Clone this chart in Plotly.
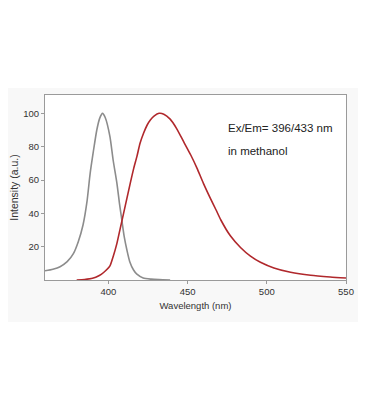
import plotly.graph_objects as go

# Excitation spectrum (gray)
ex_wl = [360, 365, 369.5, 374, 378, 381, 384, 386.5, 388.5, 390.5, 392.7, 394.5, 396.3,
         398, 401, 403, 405.4, 407, 408.5, 410, 411.7, 413.5, 415.9, 418, 422, 427, 432, 439]
ex_int = [5.5, 6.5, 8, 11, 16, 23, 33, 47, 64, 77, 90, 97, 100,
          97.5, 86, 72, 58, 46, 36, 26, 18, 11, 6, 3.5, 1.2, 0.5, 0.2, 0]

# Emission spectrum (red)
em_wl = [380, 385, 390, 394, 397, 401, 403, 405.4, 407.5, 409.6, 411.7, 413.8, 416, 418,
         420, 422.2, 424.5, 426.5, 429, 432, 435, 439, 443, 447.5, 452, 456, 460, 464.4,
         468, 471, 477, 483.4, 489.7, 496, 504.5, 515, 527.7, 540, 550]
em_int = [0, 0.3, 1, 2.5, 4.5, 8.5, 14, 22, 31, 40, 49, 58, 67, 74,
          82, 88, 93, 96, 98.5, 100, 99.5, 96.5, 91, 83, 75, 67, 58, 49,
          42, 36, 26.5, 19.5, 14.3, 10.6, 7.2, 4.6, 2.8, 1.8, 1.2]

x_ticks = [400, 450, 500, 550]
y_ticks = [20, 40, 60, 80, 100]

annot_lines = ["Ex/Em= 396/433 nm", "in methanol"]

FONT = "Liberation Sans, Arial, sans-serif"

fig = go.Figure()
fig.add_trace(go.Scatter(x=ex_wl, y=ex_int, mode="lines",
                         line=dict(color="#8c8c8c", width=1.6, shape="spline", smoothing=0.6),
                         showlegend=False))
fig.add_trace(go.Scatter(x=em_wl, y=em_int, mode="lines",
                         line=dict(color="#b0282c", width=1.6, shape="spline", smoothing=0.6),
                         showlegend=False))

axis_common = dict(showline=True, linecolor="#9a9a9a", linewidth=1, mirror=True,
                   ticks="outside", ticklen=3, tickcolor="#9a9a9a", showgrid=False,
                   zeroline=False, automargin=False,
                   tickfont=dict(family=FONT, size=9.5, color="#333333"))

fig.update_xaxes(range=[360, 550], tickvals=x_ticks, ticktext=[str(v) for v in x_ticks],
                 title=dict(text="Wavelength (nm)", font=dict(family=FONT, size=9.5, color="#333333"),
                            standoff=5),
                 **axis_common)
fig.update_yaxes(range=[0, 111], tickvals=y_ticks, ticktext=[str(v) for v in y_ticks],
                 title=dict(text="Intensity (a.u.)", font=dict(family=FONT, size=10.5, color="#333333"),
                            standoff=6),
                 **axis_common)

fig.add_annotation(x=0.6, y=0.82, xref="paper", yref="paper", xanchor="left", yanchor="middle",
                   text=annot_lines[0], showarrow=False,
                   font=dict(family=FONT, size=11.5, color="#222222"))
fig.add_annotation(x=0.6, y=0.695, xref="paper", yref="paper", xanchor="left", yanchor="middle",
                   text=annot_lines[1], showarrow=False,
                   font=dict(family=FONT, size=11.5, color="#222222"))

# faint pasted-image background and white plot area
fig.add_shape(type="rect", xref="paper", yref="paper", x0=-0.2, x1=1.04, y0=-0.227, y1=1.038,
              line=dict(width=0), fillcolor="#f8f8f8", layer="below")
fig.add_shape(type="rect", xref="paper", yref="paper", x0=0, x1=1, y0=0, y1=1,
              line=dict(width=0), fillcolor="#ffffff", layer="below")

# page body has an 8px margin, so the figure is sized/shifted to compensate
fig.update_layout(width=359, height=411, margin=dict(l=37, r=21, t=87, b=139),
                  paper_bgcolor="#ffffff", plot_bgcolor="rgba(0,0,0,0)")

fig.write_html("out.html")
